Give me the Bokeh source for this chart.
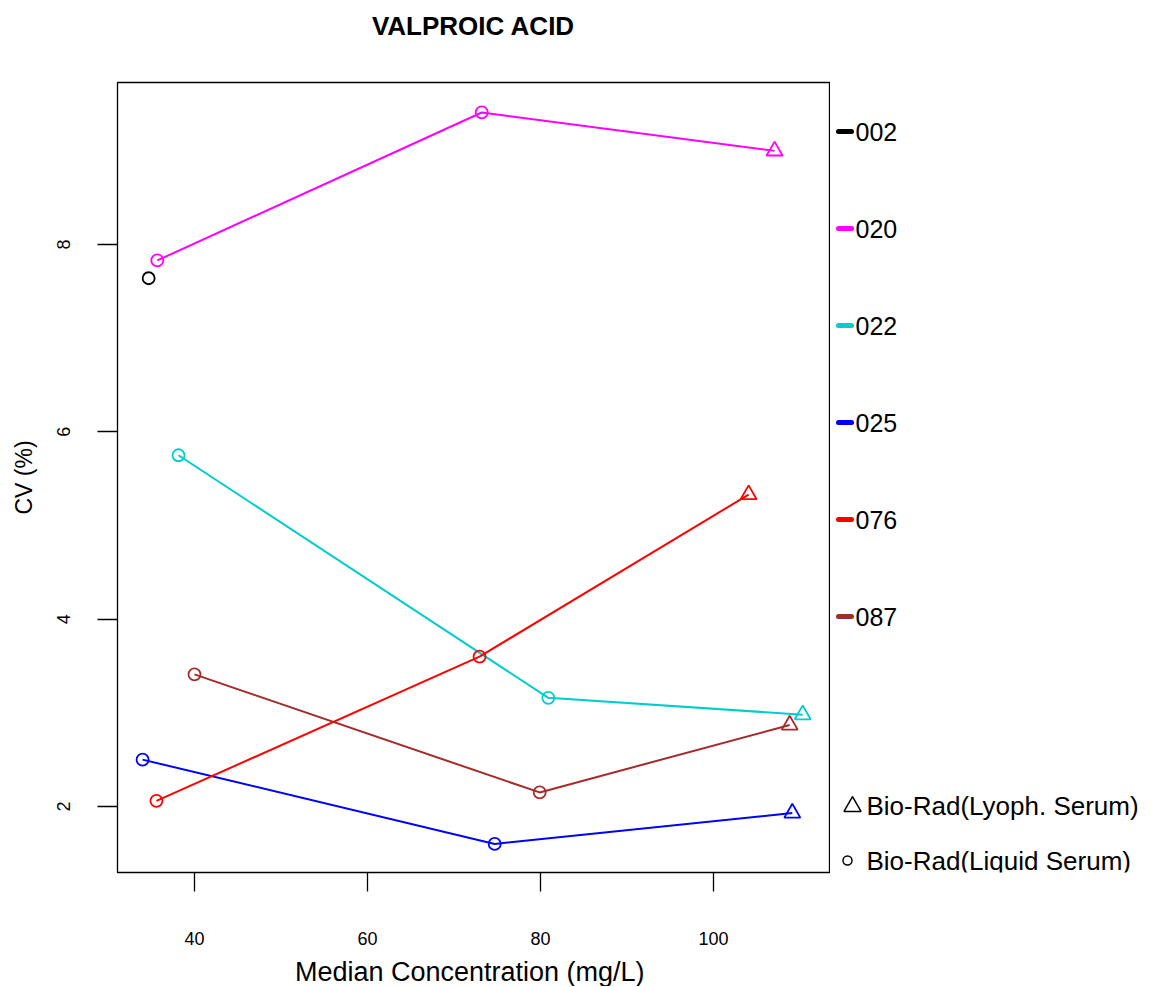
from bokeh.plotting import figure
from bokeh.layouts import row, column
from bokeh.models import Range1d, FixedTicker
from bokeh.core.properties import value
from bokeh.embed import file_html
from bokeh.resources import INLINE

title_text = "VALPROIC ACID"
x_label = "Median Concentration  (mg/L)"
y_label = "CV (%)"
x_ticks = [40, 60, 80, 100]
y_ticks = [2, 4, 6, 8]

labs = ["002", "020", "022", "025", "076", "087"]
lab_colors = ["#000000", "#FF00FF", "#00CDCD", "#0000FF", "#FF0000", "#A52A2A"]

# Bio-Rad (Liquid Serum): circles
liquid_x_002 = [34.7]
liquid_cv_002 = [7.64]
liquid_x_020 = [35.7, 73.2]
liquid_cv_020 = [7.83, 9.41]
liquid_x_022 = [38.15, 80.9]
liquid_cv_022 = [5.75, 3.16]
liquid_x_025 = [34.0, 74.7]
liquid_cv_025 = [2.50, 1.60]
liquid_x_076 = [35.6, 72.95]
liquid_cv_076 = [2.06, 3.60]
liquid_x_087 = [40.0, 79.9]
liquid_cv_087 = [3.41, 2.15]

# Bio-Rad (Lyoph. Serum): triangles
lyoph_x_002 = []
lyoph_cv_002 = []
lyoph_x_020 = [107.05]
lyoph_cv_020 = [9.00]
lyoph_x_022 = [110.3]
lyoph_cv_022 = [2.98]
lyoph_x_025 = [109.1]
lyoph_cv_025 = [1.93]
lyoph_x_076 = [104.05]
lyoph_cv_076 = [5.33]
lyoph_x_087 = [108.8]
lyoph_cv_087 = [2.87]

liquid_x = [liquid_x_002, liquid_x_020, liquid_x_022, liquid_x_025, liquid_x_076, liquid_x_087]
liquid_cv = [liquid_cv_002, liquid_cv_020, liquid_cv_022, liquid_cv_025, liquid_cv_076, liquid_cv_087]
lyoph_x = [lyoph_x_002, lyoph_x_020, lyoph_x_022, lyoph_x_025, lyoph_x_076, lyoph_x_087]
lyoph_cv = [lyoph_cv_002, lyoph_cv_020, lyoph_cv_022, lyoph_cv_025, lyoph_cv_076, lyoph_cv_087]

sample_labels = ["Bio-Rad(Lyoph. Serum)", "Bio-Rad(Liquid Serum)"]

FONT = "Liberation Sans"
TOTAL_W = 1145
TITLE_H = 45
XLAB_H = 32
BT, BB = 37, 82
FRAME_TOP, FRAME_BOT = 82, 872
MAIN_H = BT + (FRAME_BOT - FRAME_TOP) + BB
X0, X1 = 31.1, 113.4
Y0, Y1 = 1.295, 9.73
MAIN_W = 830


def blank_fig(w, h, xr, yr, **kw):
    f = figure(width=w, height=h, x_range=xr, y_range=yr, output_backend="svg",
               toolbar_location=None, x_axis_location=None, y_axis_location=None,
               min_border_left=0, min_border_right=0, **kw)
    f.xgrid.visible = False
    f.ygrid.visible = False
    f.outline_line_color = None
    f.background_fill_color = "white"
    f.border_fill_color = "white"
    return f


# title strip
pt = blank_fig(TOTAL_W, TITLE_H, Range1d(0, TOTAL_W), Range1d(TITLE_H, 0),
               min_border_top=0, min_border_bottom=0)
pt.text(x=[(117 + 829) / 2], y=[25], text=[title_text], text_font=value(FONT),
        text_font_size="26px", text_font_style="bold", text_color="black",
        text_align="center", text_baseline="middle")

# main plot
p = figure(width=MAIN_W, height=MAIN_H, x_range=Range1d(X0, X1), y_range=Range1d(Y0, Y1),
           output_backend="svg", toolbar_location=None,
           min_border_left=117, min_border_right=1, min_border_top=BT, min_border_bottom=BB)
p.xgrid.visible = False
p.ygrid.visible = False
p.outline_line_color = "black"
p.outline_line_width = 1.3
p.background_fill_color = "white"
p.border_fill_color = "white"

for ax in (p.xaxis[0], p.yaxis[0]):
    ax.axis_line_color = None
    ax.major_tick_in = 0
    ax.minor_tick_line_color = None
    ax.major_tick_line_color = "black"
    ax.major_tick_line_width = 1.3
    ax.major_label_text_font = FONT
    ax.major_label_text_font_size = "18px"
    ax.major_label_text_color = "black"
    ax.axis_label_text_font = FONT
    ax.axis_label_text_font_style = "normal"
    ax.axis_label_text_color = "black"

p.xaxis.ticker = FixedTicker(ticks=x_ticks)
p.xaxis.major_tick_out = 19
p.xaxis.major_label_standoff = 40

p.yaxis.ticker = FixedTicker(ticks=y_ticks)
p.yaxis.major_tick_out = 20
p.yaxis.major_label_standoff = 27
p.yaxis.major_label_orientation = "vertical"
p.yaxis.axis_label = y_label
p.yaxis.axis_label_text_font_size = "23px"
p.yaxis.axis_label_standoff = 18

for i, lab in enumerate(labs):
    c = lab_colors[i]
    pts = sorted(zip(liquid_x[i] + lyoph_x[i], liquid_cv[i] + lyoph_cv[i]))
    if len(pts) > 1:
        p.line([a for a, b in pts], [b for a, b in pts], line_color=c, line_width=2)
    if liquid_x[i]:
        p.scatter(liquid_x[i], liquid_cv[i], marker="circle", size=12, fill_color=None,
                  line_color=c, line_width=1.8)
    if lyoph_x[i]:
        p.scatter(lyoph_x[i], lyoph_cv[i], marker="triangle", size=16, fill_color=None,
                  line_color=c, line_width=1.8)

# legend panel (page-pixel coordinates)
p2 = blank_fig(TOTAL_W - MAIN_W, MAIN_H, Range1d(MAIN_W, TOTAL_W), Range1d(FRAME_BOT, FRAME_TOP),
               min_border_top=BT, min_border_bottom=BB)

leg_y = [131 + 97 * i for i in range(len(labs))]
p2.segment(x0=[838] * len(labs), y0=leg_y, x1=[851] * len(labs), y1=leg_y,
           line_color=lab_colors, line_width=5, line_cap="round")
p2.text(x=[855] * len(labs), y=leg_y, text=labs, text_font=value(FONT), text_font_size="25px",
        text_baseline="middle", text_align="left", text_color="black")

p2.scatter([852], [806], marker="triangle", size=17, fill_color=None, line_color="black", line_width=1.5)
p2.scatter([847], [860], marker="circle", size=9, fill_color=None, line_color="black", line_width=1.5)
p2.text(x=[866, 866], y=[805, 860], text=sample_labels, text_font=value(FONT), text_font_size="26px",
        text_baseline="middle", text_align="left", text_color="black")

# x-axis label strip
top_xl = TITLE_H + MAIN_H
px = blank_fig(TOTAL_W, XLAB_H, Range1d(0, TOTAL_W), Range1d(top_xl + XLAB_H, top_xl),
               min_border_top=0, min_border_bottom=0)
px.text(x=[(117 + 829) / 2], y=[971], text=[x_label], text_font=value(FONT),
        text_font_size="27px", text_color="black",
        text_align="center", text_baseline="middle")

layout = column(pt, row(p, p2), px)
open("out.html", "w").write(file_html(layout, INLINE))
